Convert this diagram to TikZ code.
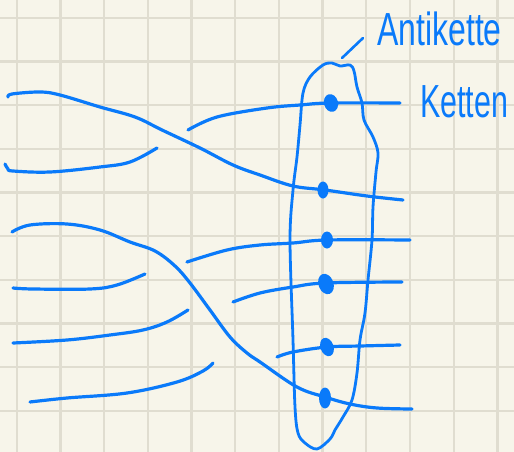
\documentclass[tikz,border=0pt]{standalone}
\usepackage{fontspec}
\setmainfont{Liberation Sans}
\definecolor{paper}{RGB}{247,245,234}
\definecolor{gridc}{RGB}{224,221,208}
\definecolor{pen}{RGB}{10,122,250}
\tikzset{
  gridline/.style={draw=gridc, line width=2.3pt},
  penstroke/.style={draw=pen, line width=3.2pt, line cap=round, line join=round},
  loopstroke/.style={draw=pen, line width=2.8pt, line cap=round, line join=round},
  pendot/.style={fill=pen},
  hand/.style={text=pen, font=\fontsize{32}{32}\selectfont, inner sep=0pt}
}
\begin{document}
\begin{tikzpicture}[x=1pt,y=-1pt]
\useasboundingbox (0,0) rectangle (514,452);
\fill[paper] (0,0) rectangle (514,452);
% grid
\foreach \i in {0,...,11} { \draw[gridline] ({16.7+43.7*\i},0) -- ({16.7+43.7*\i},452); }
\foreach \j in {0,...,9} { \draw[gridline] (0,{17.7+43.7*\j}) -- (514,{17.7+43.7*\j}); }

% strand A (top left, crossing down to second dot)
\draw[penstroke] plot[smooth, tension=0.6] coordinates {(8,97) (12,94) (40,92) (60,95) (100,107) (135,117) (162,130) (200,148) (233,165) (260,175) (293,186) (325,190) (367,196) (403,200)};
% strand B (to Ketten)
\draw[penstroke] plot[smooth, tension=0.6] coordinates {(188,130) (217,117) (267,108) (300,105) (330,103) (400,103)};
% strand C (short, lower left)
\draw[penstroke] plot[smooth, tension=0.6] coordinates {(5,164) (8,169) (13,171) (50,172) (100,167) (130,162) (157,148)};
% strand D (crossing lower)
\draw[penstroke] plot[smooth, tension=0.6] coordinates {(12,232) (30,225) (67,224) (100,230) (130,242) (155,251) (175,266) (190,283) (210,310) (230,337) (247,353) (260,362) (297,387) (325,397) (350,404) (377,408) (412,409)};
% strand E
\draw[penstroke] plot[smooth, tension=0.6] coordinates {(13,288) (33,289) (90,289) (117,285) (145,274)};
% strand F
\draw[penstroke] plot[smooth, tension=0.6] coordinates {(13,343) (67,340) (110,335) (143,330) (167,322) (188,310)};
% strand G
\draw[penstroke] plot[smooth, tension=0.6] coordinates {(30,402) (67,398) (127,393) (177,382) (203,371) (213,363)};
% strand H
\draw[penstroke] plot[smooth, tension=0.6] coordinates {(187,262) (227,250) (260,245) (293,243) (327,240) (410,240)};
% strand I
\draw[penstroke] plot[smooth, tension=0.6] coordinates {(233,302) (260,293) (293,287) (325,283) (402,282)};
% strand J
\draw[penstroke] plot[smooth, tension=0.6] coordinates {(277,357) (293,352) (327,347) (360,346) (400,345)};

% dots
\fill[pendot, rotate around={15:(331,103)}] (331,103) ellipse [x radius=7, y radius=9];
\fill[pendot] (323,190) ellipse [x radius=5.5, y radius=8.5];
\fill[pendot] (327,240) ellipse [x radius=6, y radius=8.5];
\fill[pendot, rotate around={20:(326,284)}] (326,284) ellipse [x radius=7.5, y radius=10.5];
\fill[pendot, rotate around={20:(327,347)}] (327,347) ellipse [x radius=6.5, y radius=9.5];
\fill[pendot] (325,398) ellipse [x radius=6, y radius=10.5];

% Antikette loop
\draw[loopstroke] plot[smooth cycle, tension=0.55] coordinates {(303,93) (310,77) (323,65) (332,63) (340,66) (350,65) (354,71) (357,87) (362,103) (364,120) (373,137) (378,153) (376,172) (373,207) (372,240) (368,280) (365,313) (360,340) (357,373) (352,400) (343,417) (335,430) (330,439) (317,449) (305,443) (298,433) (295,407) (293,340) (290,240) (293,190) (297,157) (300,125)};
% pointer
\draw[penstroke, line width=2.6pt] (342,58) -- (363,38);

% labels
\node[hand, anchor=west, yscale=1.45] (antikette) at (377,29) {Antikette};
\node[hand, anchor=west, yscale=1.45, xscale=0.95] (ketten) at (420,102) {Ketten};
\end{tikzpicture}
\end{document}
